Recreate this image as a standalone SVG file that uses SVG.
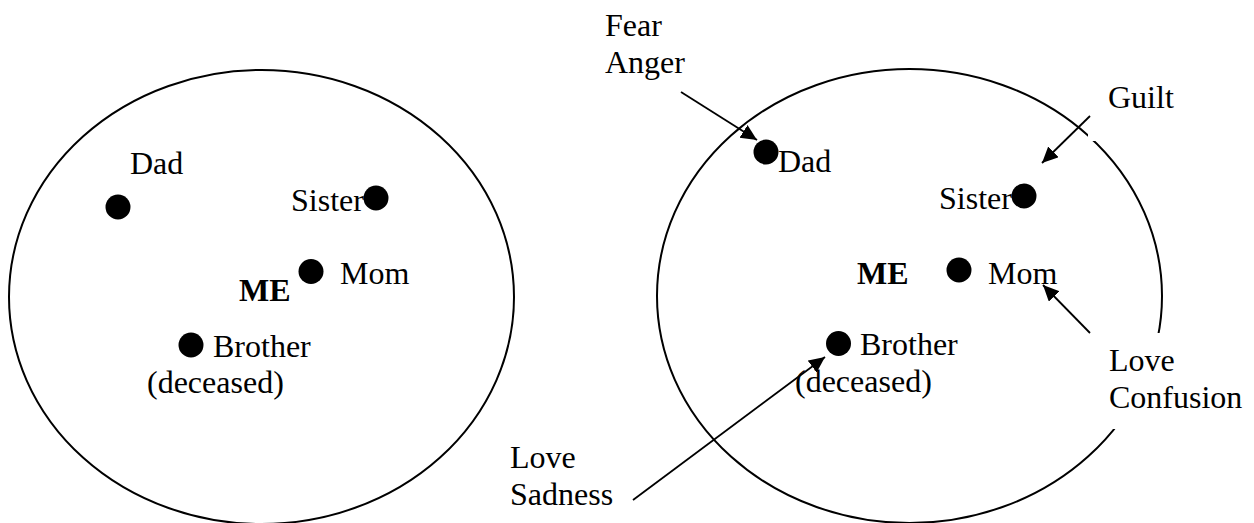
<svg xmlns="http://www.w3.org/2000/svg" width="1254" height="523" viewBox="0 0 1254 523">
<defs>
<style>
.ring{fill:none;stroke:#000;stroke-width:2}
.dot{fill:#000}
.t{font-family:"Liberation Serif","Times New Roman",serif;font-size:32px;fill:#000}
.b{font-weight:bold}
.mask{fill:#fff;stroke:none}
.arr{stroke:#000;stroke-width:1.8;fill:none;marker-end:url(#ah)}
</style>
<marker id="ah" markerUnits="userSpaceOnUse" markerWidth="18" markerHeight="16" refX="16" refY="7.5" orient="auto">
<path d="M0,0 L16,7.5 L0,15 Z" fill="#000"/>
</marker>
</defs>
<rect width="1254" height="523" fill="#fff"/>

<g id="left-diagram">
<ellipse id="left-circle" class="ring" cx="261.5" cy="297" rx="252.5" ry="227"/>
<g id="l-dad"><circle class="dot" cx="118" cy="207" r="12.5"/><text class="t" x="130" y="174">Dad</text></g>
<g id="l-sister"><circle class="dot" cx="376" cy="198" r="12.5"/><text class="t" x="291" y="211">Sister</text></g>
<g id="l-mom"><circle class="dot" cx="311" cy="271.5" r="12.5"/><text class="t" x="340" y="284">Mom</text></g>
<g id="l-me"><text class="t b" x="239" y="300.5">ME</text></g>
<g id="l-brother"><circle class="dot" cx="191" cy="345" r="12.5"/><text class="t" x="213" y="357">Brother</text><text class="t" x="147" y="392.5">(deceased)</text></g>
</g>

<g id="right-diagram">
<ellipse id="right-circle" class="ring" cx="909.5" cy="296" rx="252.5" ry="227"/>
<rect class="mask" x="1088" y="90" width="120" height="51"/>
<rect class="mask" x="1100" y="333" width="154" height="96"/>
<g id="r-dad"><circle class="dot" cx="766" cy="152" r="12.5"/><text class="t" x="778" y="172">Dad</text></g>
<g id="r-sister"><circle class="dot" cx="1024" cy="196" r="12.5"/><text class="t" x="939" y="209">Sister</text></g>
<g id="r-mom"><circle class="dot" cx="959" cy="270" r="12.5"/><text class="t" x="988" y="283.5">Mom</text></g>
<g id="r-me"><text class="t b" x="857" y="283.5">ME</text></g>
<g id="r-brother"><circle class="dot" cx="838.5" cy="343.5" r="12.5"/><text class="t" x="860" y="355">Brother</text><text class="t" x="795" y="391.5">(deceased)</text></g>
<g id="lbl-fear"><text class="t" x="605" y="36">Fear</text><text class="t" x="605" y="72.5">Anger</text></g>
<g id="lbl-guilt"><text class="t" x="1108" y="108">Guilt</text></g>
<g id="lbl-love-confusion"><text class="t" x="1109" y="371">Love</text><text class="t" x="1109" y="408">Confusion</text></g>
<g id="lbl-love-sadness"><text class="t" x="510" y="468">Love</text><text class="t" x="510" y="505">Sadness</text></g>
</g>

<g id="connectors">
<line class="arr" x1="681" y1="92" x2="757" y2="140"/>
<line class="arr" x1="1090" y1="116" x2="1042" y2="163"/>
<line class="arr" x1="1090" y1="333" x2="1043" y2="285"/>
<line class="arr" x1="633" y1="500" x2="825" y2="357"/>
</g>
</svg>
